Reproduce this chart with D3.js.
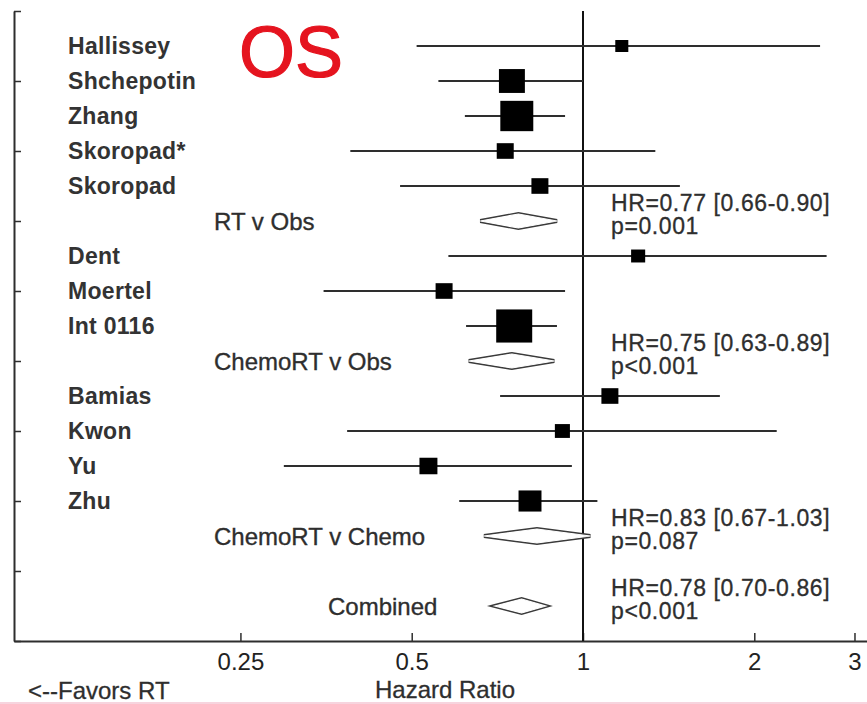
<!DOCTYPE html>
<html>
<head>
<meta charset="utf-8">
<script src="https://cdn.jsdelivr.net/npm/d3@7"></script>
<style>
  body { margin: 0; background: #fff; }
  svg { display: block; font-family: "Liberation Sans", Arial, sans-serif; }
</style>
</head>
<body>
<svg id="canvas"></svg>
<script>
const width = 867;
const height = 704;

// individual trials
const studyNames = ["Hallissey", "Shchepotin", "Zhang", "Skoropad*", "Skoropad",
  "Dent", "Moertel", "Int 0116", "Bamias", "Kwon", "Yu", "Zhu"];
const studyRows = [0, 1, 2, 3, 4, 6, 7, 8, 10, 11, 12, 13];
const studyHR = [1.17, 0.75, 0.765, 0.73, 0.84, 1.25, 0.57, 0.757, 1.115, 0.92, 0.535, 0.807];
const studyLow = [0.51, 0.557, 0.62, 0.39, 0.477, 0.58, 0.35, 0.623, 0.715, 0.385, 0.298, 0.606];
const studyHigh = [2.61, 1.0, 0.93, 1.34, 1.48, 2.68, 0.93, 0.9, 1.74, 2.19, 0.956, 1.06];
const studyWeight = [3.0, 11.9, 19.2, 5.1, 5.1, 3.5, 5.1, 22.9, 5.1, 4.0, 5.7, 9.3];

// pooled estimates
const groupNames = ["RT v Obs", "ChemoRT v Obs", "ChemoRT v Chemo", "Combined"];
const groupRows = [5, 9, 14, 16];
const groupHR = [0.77, 0.75, 0.83, 0.78];
const groupLow = [0.66, 0.63, 0.67, 0.70];
const groupHigh = [0.90, 0.89, 1.03, 0.86];
const groupP = ["p=0.001", "p<0.001", "p=0.087", "p<0.001"];

const xTicks = [0.25, 0.5, 1, 2, 3];

const svg = d3.select("#canvas").attr("width", width).attr("height", height);

const x0 = d3.scaleLog().domain([0.1, 1]).range([14, 583]);
const x = d3.scaleLog().domain([0.1, 3.3]).range([14, x0(3.3)]);
const y = d3.scaleLinear().domain([-1, 17]).range([11, 641]);
const size = d3.scaleSqrt().domain([0, d3.max(studyWeight)]).range([0, 36]);

const ink = "#2e2e2e";

// axes
const xAxis = svg.append("g")
  .attr("transform", `translate(0,${y(17)})`)
  .call(d3.axisBottom(x).tickValues(xTicks).tickFormat((d) => String(d))
    .tickSize(-8).tickPadding(12).tickSizeOuter(0));
xAxis.select(".domain").attr("stroke", ink).attr("stroke-width", 2);
xAxis.selectAll(".tick line").attr("stroke", ink).attr("stroke-width", 1.5);
xAxis.selectAll(".tick text").attr("fill", "#222").style("font-size", "24px");

const yAxis = svg.append("g")
  .attr("transform", `translate(${x(0.1)},0)`)
  .call(d3.axisLeft(y).tickValues(d3.range(-1, 18, 2)).tickFormat("")
    .tickSize(-7).tickSizeOuter(0));
yAxis.select(".domain").attr("stroke", ink).attr("stroke-width", 2);
yAxis.selectAll(".tick line").attr("stroke", ink).attr("stroke-width", 1.5);

// line of no effect
svg.append("line")
  .attr("x1", x(1)).attr("x2", x(1))
  .attr("y1", y(-1)).attr("y2", y(17))
  .attr("stroke", "#111").attr("stroke-width", 2);

// trials
const studies = studyNames.map((name, i) => ({
  name, row: studyRows[i], hr: studyHR[i], lo: studyLow[i], hi: studyHigh[i], w: studyWeight[i]
}));

svg.selectAll(".ci")
  .data(studies)
  .enter()
  .append("line")
  .attr("class", "ci")
  .attr("x1", (d) => x(d.lo))
  .attr("x2", (d) => x(d.hi))
  .attr("y1", (d) => y(d.row))
  .attr("y2", (d) => y(d.row))
  .attr("stroke", ink)
  .attr("stroke-width", 2);

svg.selectAll(".box")
  .data(studies)
  .enter()
  .append("rect")
  .attr("class", "box")
  .attr("x", (d) => x(d.hr) - size(d.w) / 2)
  .attr("y", (d) => y(d.row) - size(d.w) * 0.46)
  .attr("width", (d) => size(d.w))
  .attr("height", (d) => size(d.w) * 0.92)
  .attr("fill", "#000");

svg.selectAll(".name")
  .data(studies)
  .enter()
  .append("text")
  .attr("class", "name")
  .attr("x", 68)
  .attr("y", (d) => y(d.row))
  .attr("dy", "0.36em")
  .attr("fill", "#333")
  .style("font-size", "23px")
  .style("font-weight", "bold")
  .style("letter-spacing", "0.3px")
  .text((d) => d.name);

// pooled diamonds
const groups = groupNames.map((name, i) => ({
  name, row: groupRows[i], hr: groupHR[i], lo: groupLow[i], hi: groupHigh[i], p: groupP[i]
}));

const diamond = (d) => {
  const cy = y(d.row);
  return `M${x(d.lo)},${cy}L${x(d.hr)},${cy - 7}L${x(d.hi)},${cy}L${x(d.hr)},${cy + 7}Z`;
};

svg.selectAll(".diamond")
  .data(groups)
  .enter()
  .append("path")
  .attr("class", "diamond")
  .attr("d", diamond)
  .attr("fill", "#fff")
  .attr("stroke", "#3a3a3a")
  .attr("stroke-width", 4);

svg.selectAll(".diamond-in")
  .data(groups)
  .enter()
  .append("path")
  .attr("class", "diamond-in")
  .attr("d", diamond)
  .attr("fill", "#fff")
  .attr("stroke", "#fff")
  .attr("stroke-width", 1.2);

svg.selectAll(".group")
  .data(groups)
  .enter()
  .append("text")
  .attr("class", "group")
  .attr("x", (d, i) => (i === 3 ? 328 : 214))
  .attr("y", (d) => y(d.row))
  .attr("dy", "0.36em")
  .attr("fill", ink)
  .attr("stroke", ink)
  .attr("stroke-width", 0.35)
  .style("font-size", "24px")
  .text((d) => d.name);

const stats = svg.selectAll(".stat")
  .data(groups)
  .enter()
  .append("text")
  .attr("class", "stat")
  .attr("fill", ink)
  .attr("stroke", ink)
  .attr("stroke-width", 0.3)
  .style("font-size", "23px")
  .style("letter-spacing", "0.6px");

stats.append("tspan")
  .attr("x", 611)
  .attr("y", (d) => y(d.row) - 10)
  .text((d) => `HR=${d.hr.toFixed(2)} [${d.lo.toFixed(2)}-${d.hi.toFixed(2)}]`);

stats.append("tspan")
  .attr("x", 611)
  .attr("y", (d) => y(d.row) + 13)
  .text((d) => d.p);

// title and captions
svg.append("text")
  .attr("x", 239)
  .attr("y", 77)
  .attr("fill", "#e5141f")
  .attr("stroke", "#e5141f")
  .attr("stroke-width", 1.2)
  .style("font-size", "72px")
  .text("OS");

svg.append("text")
  .attr("x", 445)
  .attr("y", 698)
  .attr("text-anchor", "middle")
  .attr("fill", ink)
  .attr("stroke", ink)
  .attr("stroke-width", 0.3)
  .style("font-size", "24px")
  .text("Hazard Ratio");

svg.append("text")
  .attr("x", 28)
  .attr("y", 699)
  .attr("fill", ink)
  .attr("stroke", ink)
  .attr("stroke-width", 0.3)
  .style("font-size", "24px")
  .text("<--Favors RT");

svg.append("rect")
  .attr("x", 0).attr("y", 702)
  .attr("width", width).attr("height", 2)
  .attr("fill", "#f7d4de");
</script>
</body>
</html>
